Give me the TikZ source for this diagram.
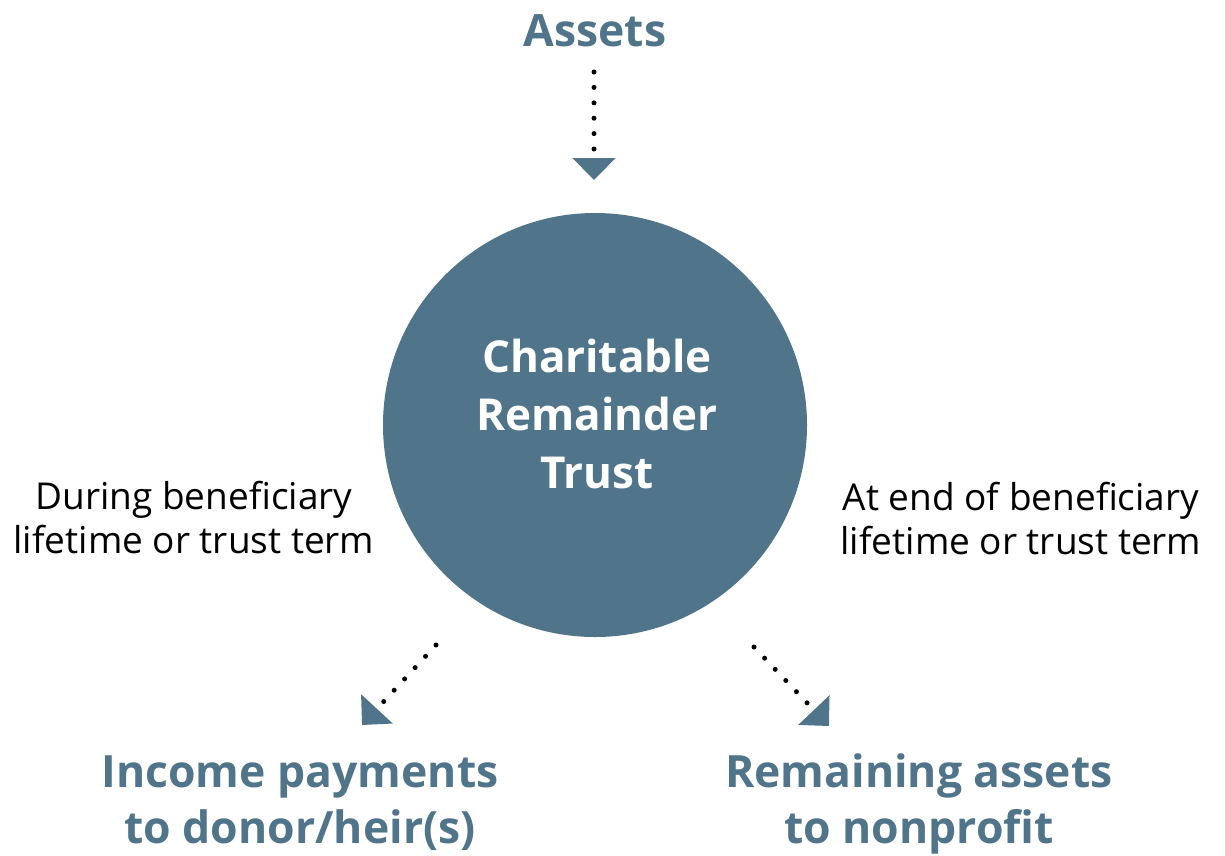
\documentclass[tikz,border=0pt]{standalone}
\usepackage{fontspec}
\setmainfont{Open Sans}
\usetikzlibrary{arrows.meta}
\definecolor{slate}{HTML}{50748A}
\begin{document}
\begin{tikzpicture}[x=1pt,y=-1pt,
  bigtitle/.style={font=\fontsize{44.5}{56}\selectfont\bfseries, text=slate, align=center, inner sep=0pt, anchor=base},
  side/.style={font=\fontsize{37}{44}\selectfont, text=black, align=center, inner sep=0pt, anchor=base},
  hub/.style={circle, fill=slate, minimum size=424pt, inner sep=0pt},
  hubtext/.style={font=\fontsize{44}{58}\selectfont\bfseries, text=white, align=center, inner sep=0pt, anchor=base},
  flow/.style={line width=5pt, line cap=round, dash pattern=on 0pt off 15.4pt,
    -{Triangle[length=22pt, width=42pt, color=slate, line cap=butt]}}
]
\useasboundingbox (0,0) rectangle (1225,855);
\node[hub] (crt) at (595,425) {};
\node[hubtext] (crtlabel) at (597,488) {Charitable\\Remainder\\Trust};
\node[bigtitle] (assets) at (595,46) {Assets};
\node[bigtitle] (income) at (300,843) {Income payments\\to donor/heir(s)};
\node[bigtitle] (remain) at (919,843) {Remaining assets\\to nonprofit};
\node[side] (during) at (194,553) {During beneficiary\\lifetime or trust term};
\node[side] (atend) at (1021,554) {At end of beneficiary\\lifetime or trust term};
\coordinate (a0) at (594,72);
\coordinate (a1) at (594,180);
\coordinate (l0) at (436,645);
\coordinate (l1) at (362,725);
\coordinate (r0) at (754,647);
\coordinate (r1) at (829,726);
\draw[flow] (a0) -- (a1);
\draw[flow] (l0) -- (l1);
\draw[flow] (r0) -- (r1);
\end{tikzpicture}
\end{document}
